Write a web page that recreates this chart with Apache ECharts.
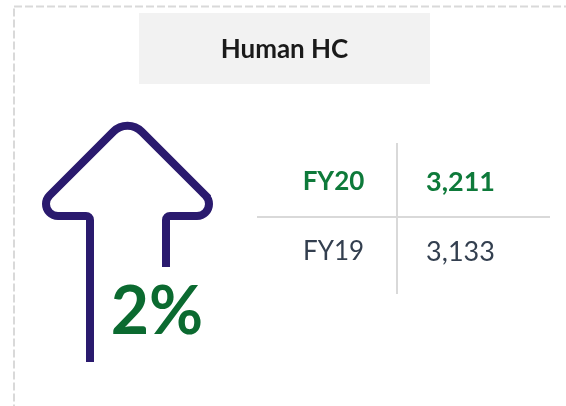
<!DOCTYPE html>
<html>
<head>
<meta charset="utf-8">
<style>html,body{margin:0;padding:0;background:#fff}#main{width:566px;height:406px}</style>
<script src="https://cdn.jsdelivr.net/npm/echarts@6/dist/echarts.min.js"></script>
</head>
<body>
<div id="main"></div>
<script>
// data
var titleText = 'Human HC';
var years = ['FY20', 'FY19'];
var headcount = [3211, 3133];
var changePct = [2];
var columns = ['year', 'hc'];

var FONT = 'Lato';
var green = '#0e7a3a';
var dark = '#333f4f';

// up arrow outline with rounded corners
var PI = Math.PI;
echarts.graphic.registerShape('upArrow', echarts.graphic.extendShape({
    shape: {},
    buildPath: function (ctx) {
        ctx.moveTo(90, 362);
        ctx.lineTo(90, 220);
        ctx.arc(86, 220, 4, 0, -PI / 2, true);
        ctx.lineTo(58, 216);
        ctx.arc(58, 204, 12, PI / 2, PI * 5 / 4, false);
        ctx.lineTo(113.4, 131.6);
        ctx.arc(127.5, 145.8, 20, PI * 5 / 4, PI * 7 / 4, false);
        ctx.lineTo(205.5, 195.5);
        ctx.arc(197, 204, 12, -PI / 4, PI / 2, false);
        ctx.lineTo(170, 216);
        ctx.arc(170, 220, 4, -PI / 2, -PI, true);
        ctx.lineTo(166, 267);
    }
}));

var myChart = echarts.init(document.getElementById('main'));

// first row = current year, highlighted
function rowLabel(i) {
    return i === 0 ? { color: green, fontWeight: 'bold' } : { color: dark, fontWeight: 'normal' };
}

var yearCells = years.map(function (y, i) {
    return { name: y, value: [columns[0], y], label: rowLabel(i) };
});
var hcCells = years.map(function (y, i) {
    return { name: headcount[i].toLocaleString('en-US'), value: [columns[1], y], label: rowLabel(i) };
});

option = {
    animation: false,
    textStyle: { fontFamily: FONT },
    grid: { left: 270, right: 42, top: 147, bottom: 119 },
    xAxis: { type: 'category', data: columns, show: false },
    yAxis: { type: 'category', data: years, inverse: true, show: false },
    graphic: [
        {
            type: 'rect',
            shape: { x: 14, y: 6.5, width: 600, height: 450 },
            style: { fill: 'none', stroke: '#d9d9d9', lineWidth: 2, lineDash: [8, 3] }
        },
        {
            type: 'rect',
            shape: { x: 139, y: 13, width: 291, height: 71 },
            style: { fill: '#f2f2f2' }
        },
        {
            type: 'text', x: 284.5, y: 50,
            style: { text: titleText, align: 'center', verticalAlign: 'middle',
                font: 'bold 26px ' + FONT, fill: '#1a1a1a' }
        },
        {
            type: 'upArrow',
            shape: {},
            style: { fill: 'none', stroke: '#2a1a6e', lineWidth: 8 }
        },
        {
            type: 'text', x: 157, y: 313,
            style: { text: changePct[0] + '%', align: 'center', verticalAlign: 'middle',
                font: 'bold 66px ' + FONT, fill: '#0b6a30' }
        },
        {
            type: 'line',
            shape: { x1: 397, y1: 143, x2: 397, y2: 294 },
            style: { stroke: '#d9d9d9', lineWidth: 2 }
        },
        {
            type: 'line',
            shape: { x1: 257, y1: 217, x2: 550, y2: 217 },
            style: { stroke: '#d9d9d9', lineWidth: 2 }
        }
    ],
    series: [
        {
            name: 'year',
            type: 'scatter',
            symbolSize: 0,
            itemStyle: { opacity: 1 },
            emphasis: { disabled: true },
            label: { show: true, position: 'inside', formatter: '{b}', fontSize: 26, fontFamily: FONT },
            data: yearCells
        },
        {
            name: 'hc',
            type: 'scatter',
            symbolSize: 0,
            itemStyle: { opacity: 1 },
            emphasis: { disabled: true },
            label: { show: true, position: 'inside', formatter: '{b}', fontSize: 27, fontFamily: FONT },
            data: hcCells
        }
    ]
};

myChart.setOption(option);
</script>
</body>
</html>
